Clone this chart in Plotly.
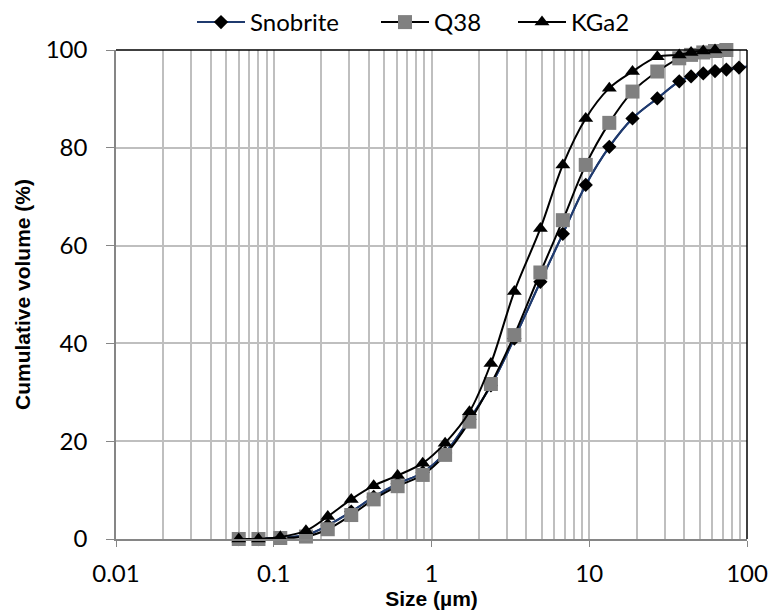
import plotly.graph_objects as go

# ---- data ----
sizes = [0.06, 0.08, 0.11, 0.16, 0.22, 0.31, 0.43, 0.61, 0.88, 1.22, 1.74, 2.38,
         3.35, 4.9, 6.8, 9.5, 13.4, 18.8, 27.0, 37.2, 44.2, 52.8, 62.7, 74.0, 89.0, 106.0]
snobrite = [0, 0, 0.3, 0.8, 2.8, 5.6, 8.6, 11.3, 13.6, 17.6, 24.5, 31.4, 41.0,
            52.6, 62.4, 72.4, 80.2, 86.0, 90.1, 93.6, 94.6, 95.2, 95.7, 96.0, 96.4, 96.7]
q38 = [0, 0, 0.2, 0.5, 2.0, 4.9, 8.1, 10.8, 13.1, 17.2, 24.0, 31.7, 41.7,
       54.5, 65.2, 76.5, 85.1, 91.5, 95.6, 98.3, 99.0, 99.5, 99.8, 100]
kga2 = [0, 0, 0.4, 1.7, 4.6, 8.1, 10.9, 13.0, 15.5, 19.6, 26.0, 35.9, 50.6,
        63.5, 76.5, 86.0, 92.2, 95.6, 98.6, 99.0, 99.5, 99.8, 100]

x_major = [0.01, 0.1, 1, 10, 100]
x_labels = ["0.01", "0.1", "1", "10", "100"]
y_ticks = [0, 20, 40, 60, 80, 100]

minor_vals = [m * d for d in [0.01, 0.1, 1, 10] for m in range(2, 10)]

tick_font = dict(family="Lato, Carlito, sans-serif", size=24, color="#000000")
title_font = dict(family="Liberation Sans, Arial, sans-serif", size=21, color="#000000")

fig = go.Figure()
# Snobrite: line over all points (last point lies beyond the axis and is clipped)
fig.add_trace(go.Scatter(
    x=sizes[:len(snobrite)], y=snobrite, name="Snobrite", mode="lines",
    line=dict(color="#1F3A6E", width=2, shape="spline"),
    showlegend=False, hoverinfo="skip",
))
fig.add_trace(go.Scatter(
    x=sizes[:len(snobrite) - 1], y=snobrite[:-1], name="Snobrite", mode="lines+markers",
    line=dict(color="#1F3A6E", width=2, shape="spline"),
    marker=dict(symbol="diamond", size=11, color="#000000"),
    cliponaxis=False, legend="legend",
))
fig.add_trace(go.Scatter(
    x=sizes[:len(q38)], y=q38, name="Q38", mode="lines+markers",
    line=dict(color="#000000", width=2, shape="spline"),
    marker=dict(symbol="square", size=14, color="#808080"),
    cliponaxis=False, legend="legend2",
))
fig.add_trace(go.Scatter(
    x=sizes[:len(kga2)], y=kga2, name="KGa2", mode="lines+markers",
    line=dict(color="#000000", width=2, shape="spline"),
    marker=dict(symbol="triangle-up", size=13, color="#000000"),
    cliponaxis=False, legend="legend3",
))


def legend_at(px):
    return dict(orientation="h", x=px / 771, xanchor="left", xref="container",
                y=1.0, yanchor="top", yref="container",
                font=tick_font, itemwidth=48, bgcolor="rgba(0,0,0,0)")


fig.update_layout(
    width=771, height=612,
    margin=dict(l=116, r=24, t=50, b=73, autoexpand=False),
    paper_bgcolor="white", plot_bgcolor="white",
    showlegend=True,
    legend=legend_at(192),
    legend2=legend_at(376),
    legend3=legend_at(513),
    xaxis=dict(
        type="log", range=[-2, 2],
        tickvals=x_major, ticktext=x_labels, tickfont=tick_font,
        showgrid=True, gridcolor="#BFBFBF", gridwidth=1.5,
        minor=dict(tickvals=minor_vals, showgrid=True, gridcolor="#BFBFBF",
                   gridwidth=1.5, ticks=""),
        showline=True, linecolor="#868686", linewidth=1.5,
        ticks="outside", ticklen=6, tickcolor="#868686",
        ticklabelstandoff=6,
        title=dict(text="<b>Size (µm)</b>", font=title_font, standoff=0),
        zeroline=False,
    ),
    yaxis=dict(
        range=[0, 100], tickvals=y_ticks, tickfont=tick_font,
        showgrid=True, gridcolor="#BFBFBF", gridwidth=1.5,
        showline=True, linecolor="#868686", linewidth=1.5,
        ticks="outside", ticklen=8, tickcolor="#868686",
        ticklabelstandoff=14,
        title=dict(text="<b>Cumulative volume (%)</b>", font=title_font, standoff=9),
        zeroline=False,
    ),
)

# top and right border of plot area
fig.add_shape(type="line", xref="x domain", yref="y domain", x0=0, x1=1, y0=1, y1=1,
              line=dict(color="#000000", width=1.5))
fig.add_shape(type="line", xref="x domain", yref="y domain", x0=1, x1=1, y0=0, y1=1,
              line=dict(color="#000000", width=1.5))

fig.write_html("out.html")
